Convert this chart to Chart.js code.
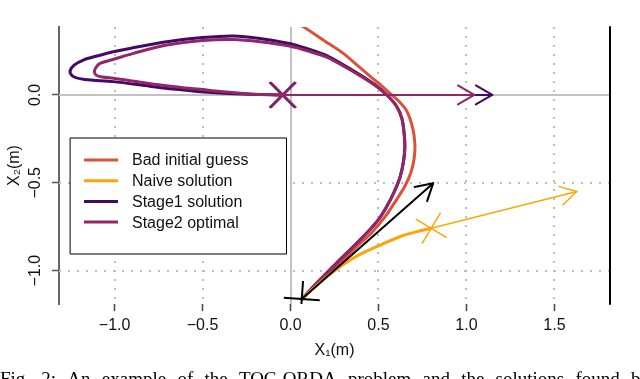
<!DOCTYPE html>
<html><head><meta charset="utf-8">
<script src="https://cdn.jsdelivr.net/npm/chart.js@4.4.1/dist/chart.umd.min.js"></script>
<style>html,body{margin:0;padding:0;background:#fff;overflow:hidden}#wrap{width:640px;height:379px;position:relative}</style>
</head><body><div id="wrap"><canvas id="c" width="640" height="379"></canvas></div>
<script>
// ---- data ----
const xTicks = [-1.0, -0.5, 0.0, 0.5, 1.0, 1.5];
const xTickLabels = ['\u22121.0', '\u22120.5', '0.0', '0.5', '1.0', '1.5'];
const yTicks = [-1.0, -0.5, 0.0];
const yTickLabels = ['\u22121.0', '\u22120.5', '0.0'];
const xTitle = 'X\u2081(m)';
const yTitle = 'X\u2082(m)';
const seriesNames = ['Bad initial guess', 'Naive solution', 'Stage1 solution', 'Stage2 optimal'];
const seriesColors = ['#DD513A', '#FCA50A', '#420A68', '#932667'];
const arrowColor = '#000000';
const caption = 'Fig. 2: An example of the TOC-ORDA problem and the solutions found by';

const badX = [0.064, 0.18, 0.30, 0.38, 0.46, 0.54, 0.60, 0.65, 0.685, 0.703, 0.707, 0.695, 0.66, 0.61, 0.575, 0.52, 0.46, 0.39, 0.30, 0.19, 0.073, -0.02];
const badY = [-1.161, -1.05, -0.94, -0.86, -0.786, -0.69, -0.60, -0.52, -0.44, -0.36, -0.28, -0.19, -0.09, -0.03, 0.0, 0.05, 0.10, 0.16, 0.237, 0.31, 0.388, 0.44];

const naiveX = [0.064, 0.12, 0.20, 0.30, 0.40, 0.52, 0.64, 0.72, 0.80];
const naiveY = [-1.161, -1.11, -1.04, -0.965, -0.905, -0.85, -0.80, -0.778, -0.759];
const naiveArrowX = [0.80, 1.627];
const naiveArrowY = [-0.759, -0.550];

const stage1X = [0.064, 0.17, 0.281, 0.36, 0.433, 0.50, 0.547, 0.59, 0.622, 0.642, 0.65, 0.645, 0.632, 0.60, 0.548, 0.48, 0.395, 0.30, 0.206, 0.10, 0.0, -0.173, -0.325, -0.50, -0.704, -0.90, -1.007, -1.10, -1.178, -1.23, -1.2536, -1.235, -1.17, -1.007, -0.80, -0.65, -0.515, -0.38, -0.23, -0.12, -0.047];
const stage1Y = [-1.161, -1.05, -0.9375, -0.86, -0.786, -0.71, -0.635, -0.55, -0.47, -0.38, -0.294, -0.21, -0.13, -0.06, 0.0, 0.058, 0.115, 0.172, 0.224, 0.262, 0.292, 0.322, 0.336, 0.327, 0.303, 0.268, 0.246, 0.222, 0.199, 0.17, 0.133, 0.105, 0.088, 0.076, 0.05, 0.032, 0.019, 0.01, 0.004, 0.001, 0.0];
const stage1ArrowX = [-0.047, 1.147];
const stage1ArrowY = [0.0, 0.0];

const stage2X = [0.064, 0.17, 0.281, 0.36, 0.433, 0.50, 0.547, 0.59, 0.622, 0.642, 0.65, 0.645, 0.632, 0.60, 0.547, 0.48, 0.395, 0.30, 0.206, 0.10, 0.0, -0.173, -0.325, -0.50, -0.703, -0.893, -1.0, -1.083, -1.105, -1.115, -1.105, -1.07, -1.007, -0.90, -0.75, -0.60, -0.514, -0.40, -0.23, -0.12, -0.04];
const stage2Y = [-1.161, -1.05, -0.9375, -0.86, -0.786, -0.71, -0.635, -0.55, -0.47, -0.38, -0.294, -0.21, -0.13, -0.06, 0.0, 0.055, 0.11, 0.165, 0.215, 0.25, 0.277, 0.303, 0.316, 0.31, 0.284, 0.237, 0.205, 0.18, 0.158, 0.133, 0.113, 0.102, 0.095, 0.08, 0.058, 0.04, 0.032, 0.02, 0.006, 0.002, 0.0];
const stage2ArrowX = [-0.04, 1.045];
const stage2ArrowY = [0.0, 0.0];

const initArrowX = [0.064, 0.811];
const initArrowY = [-1.161, -0.502];

// marker positions (x, y) and their heading rotation (deg)
const markerX = [0.064, 0.80, -0.047, -0.04];
const markerY = [-1.161, -0.759, 0.0, 0.0];
const markerRot = [-41, -14, 0, 0];

// ---- build ----
const pts = (xs, ys) => xs.map((v, i) => ({x: v, y: ys[i]}));
const FONT = "'Liberation Sans', Arial, Helvetica, sans-serif";

function curve(label, xs, ys, color, width, order, extra) {
  return Object.assign({label, data: pts(xs, ys), showLine: true, borderColor: color, backgroundColor: color,
    borderWidth: width, pointRadius: 0, tension: 0.3, fill: false, clip: 0, order,
    borderCapStyle: 'round', borderJoinStyle: 'round'}, extra || {});
}
function marker(i, color, width, order) {
  return {label: 'm' + i, data: [{x: markerX[i], y: markerY[i]}], showLine: false, pointStyle: 'crossRot',
    pointRadius: 18, pointRotation: markerRot[i], pointBorderColor: color, pointBackgroundColor: color,
    pointBorderWidth: width, clip: 0, order};
}

const datasets = [
  curve(seriesNames[0], badX, badY, seriesColors[0], 3, 6),
  curve(seriesNames[1], naiveX, naiveY, seriesColors[1], 3, 2),
  curve('naiveArrow', naiveArrowX, naiveArrowY, seriesColors[1], 1.5, 2, {tension: 0, arrowHead: true}),
  marker(1, seriesColors[1], 1.5, 2),
  curve(seriesNames[2], stage1X, stage1Y, seriesColors[2], 3, 5),
  curve('stage1Arrow', stage1ArrowX, stage1ArrowY, seriesColors[2], 2, 5, {tension: 0, arrowHead: true}),
  marker(2, seriesColors[2], 2, 5),
  curve(seriesNames[3], stage2X, stage2Y, seriesColors[3], 3, 4),
  curve('stage2Arrow', stage2ArrowX, stage2ArrowY, seriesColors[3], 2, 4, {tension: 0, arrowHead: true}),
  marker(3, seriesColors[3], 2, 4),
  curve('initArrow', initArrowX, initArrowY, arrowColor, 2, 1, {tension: 0, arrowHead: true}),
  marker(0, arrowColor, 2, 1)
];

const decor = {
  id: 'decor',
  beforeDatasetsDraw(chart) {
    const {ctx, chartArea: a, scales: {x, y}} = chart;
    ctx.save();
    ctx.beginPath(); ctx.rect(a.left, a.top, a.right - a.left, a.bottom - a.top); ctx.clip();
    ctx.lineWidth = 2; ctx.strokeStyle = '#BDBDBD'; ctx.setLineDash([2, 7]);
    xTicks.forEach(v => { if (v === 0) return; const px = Math.round(x.getPixelForValue(v));
      ctx.beginPath(); ctx.moveTo(px, a.top); ctx.lineTo(px, a.bottom); ctx.stroke(); });
    yTicks.forEach(v => { if (v === 0) return; const py = Math.round(y.getPixelForValue(v));
      ctx.beginPath(); ctx.moveTo(a.left, py); ctx.lineTo(a.right, py); ctx.stroke(); });
    ctx.setLineDash([]); ctx.strokeStyle = '#C2C2C2'; ctx.lineWidth = 2;
    const x0 = Math.round(x.getPixelForValue(0)), y0 = Math.round(y.getPixelForValue(0));
    ctx.beginPath(); ctx.moveTo(x0, a.top); ctx.lineTo(x0, a.bottom); ctx.stroke();
    ctx.beginPath(); ctx.moveTo(a.left, y0); ctx.lineTo(a.right, y0); ctx.stroke();
    ctx.restore();
  },
  afterDatasetsDraw(chart) {
    const {ctx, chartArea: a} = chart;
    ctx.save();
    // arrowheads
    chart.data.datasets.forEach((ds, i) => {
      if (!ds.arrowHead) return;
      const d = chart.getDatasetMeta(i).data; const n = d.length;
      const p1 = d[n - 2], p2 = d[n - 1];
      const ang = Math.atan2(p2.y - p1.y, p2.x - p1.x), L = 19, w = Math.PI / 6;
      ctx.strokeStyle = ds.borderColor; ctx.lineWidth = ds.borderWidth; ctx.lineCap = 'round'; ctx.lineJoin = 'round';
      ctx.beginPath();
      ctx.moveTo(p2.x - L * Math.cos(ang - w), p2.y - L * Math.sin(ang - w));
      ctx.lineTo(p2.x, p2.y);
      ctx.lineTo(p2.x - L * Math.cos(ang + w), p2.y - L * Math.sin(ang + w));
      ctx.stroke();
    });
    // right frame line
    ctx.strokeStyle = '#000'; ctx.lineWidth = 2;
    ctx.beginPath(); ctx.moveTo(a.right, a.top); ctx.lineTo(a.right, a.bottom); ctx.stroke();
    // legend
    const bx = 70, by = 137.5, bw = 216, bh = 116;
    ctx.fillStyle = '#fff'; ctx.fillRect(bx, by, bw, bh);
    ctx.strokeStyle = '#000'; ctx.lineWidth = 1; ctx.strokeRect(bx + 0.5, by + 0.5, bw, bh);
    ctx.font = '16px ' + FONT; ctx.textBaseline = 'middle'; ctx.textAlign = 'left';
    seriesNames.forEach((name, i) => {
      const ry = 160 + i * 20.7;
      ctx.strokeStyle = seriesColors[i]; ctx.lineWidth = 3; ctx.lineCap = 'butt';
      ctx.beginPath(); ctx.moveTo(84, ry); ctx.lineTo(118, ry); ctx.stroke();
      ctx.fillStyle = '#111'; ctx.fillText(name, 132, ry + 1);
    });
    ctx.restore();
  },
  afterDraw(chart) {
    const {ctx} = chart;
    ctx.save();
    ctx.font = '19px "Liberation Serif", "Times New Roman", serif';
    ctx.fillStyle = '#000'; ctx.textBaseline = 'alphabetic'; ctx.textAlign = 'left';
    const words = caption.split(' ');
    const total = words.reduce((s, w) => s + ctx.measureText(w).width, 0);
    const gap = (650 - total) / (words.length - 1);
    let cx = 0;
    words.forEach(w => { ctx.fillText(w, cx, 385); cx += ctx.measureText(w).width + gap; });
    ctx.restore();
  }
};

new Chart(document.getElementById('c'), {
  type: 'scatter',
  data: {datasets},
  plugins: [decor],
  options: {
    responsive: false, animation: false, devicePixelRatio: 1,
    layout: {padding: {top: 27, right: 30, left: 0, bottom: 0}},
    plugins: {legend: {display: false}, tooltip: {enabled: false}},
    scales: {
      x: {
        type: 'linear', min: -1.316, max: 1.816,
        afterBuildTicks(s) { s.ticks = xTicks.map(v => ({value: v})); },
        afterFit(s) { s.height = 75; },
        ticks: {autoSkip: false, maxRotation: 0, minRotation: 0, padding: 5, color: '#111',
          font: {family: FONT, size: 16},
          callback: (v) => xTickLabels[xTicks.indexOf(v)]},
        grid: {drawOnChartArea: false, drawTicks: true, tickLength: 7, tickColor: '#444', tickWidth: 1.5, color: '#444'},
        border: {display: false},
        title: {display: true, text: xTitle, color: '#111', font: {family: FONT, size: 16}, padding: {top: 0, bottom: 19}}
      },
      y: {
        type: 'linear', min: -1.19, max: 0.387,
        afterBuildTicks(s) { s.ticks = yTicks.map(v => ({value: v})); },
        afterFit(s) { s.width = 59; },
        ticks: {autoSkip: false, minRotation: 90, maxRotation: 90, crossAlign: 'center', padding: 1, color: '#111',
          font: {family: FONT, size: 16},
          callback: (v) => yTickLabels[yTicks.indexOf(v)]},
        grid: {drawOnChartArea: false, drawTicks: true, tickLength: 7, tickColor: '#555', tickWidth: 1.5, color: '#555'},
        border: {display: true, color: '#666', width: 2},
        title: {display: true, text: yTitle, color: '#111', font: {family: FONT, size: 16}, padding: {top: 5, bottom: 0}}
      }
    }
  }
});
</script>
</body></html>
